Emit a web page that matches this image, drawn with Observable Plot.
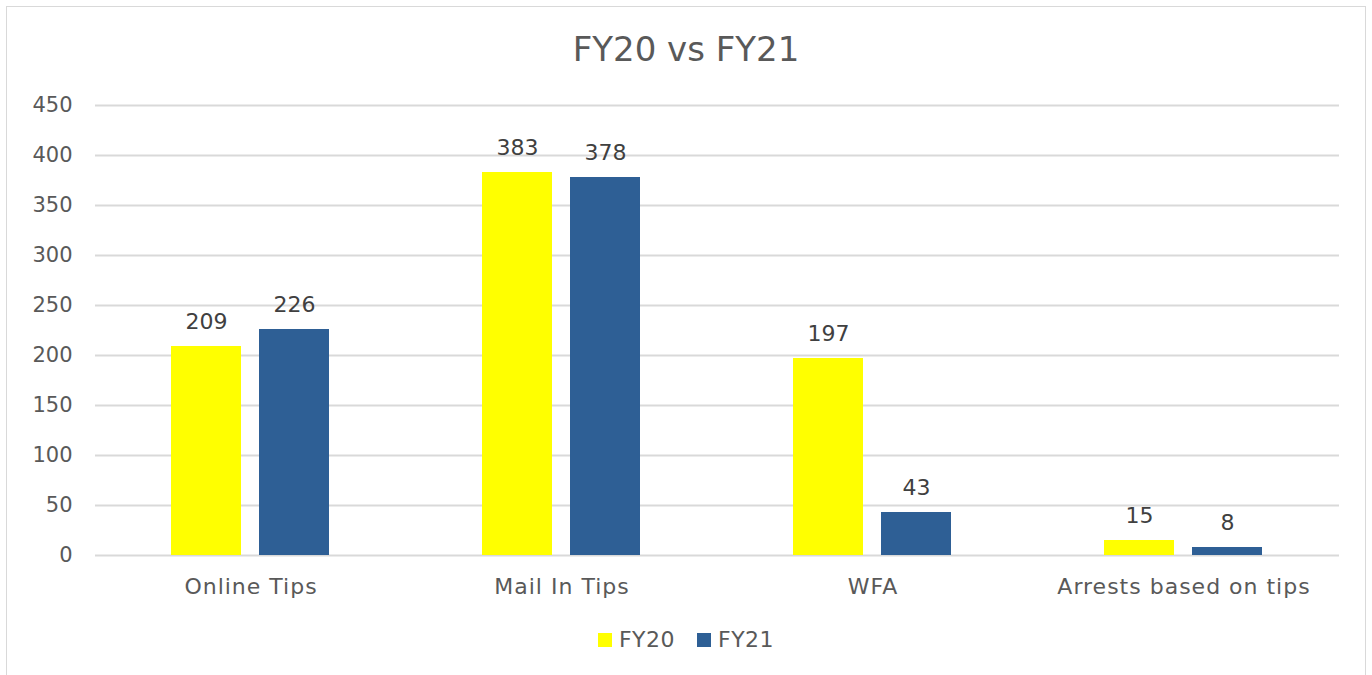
<!DOCTYPE html>
<html>
<head>
<meta charset="utf-8">
<script src="https://cdn.jsdelivr.net/npm/d3@7"></script>
<script src="https://cdn.jsdelivr.net/npm/@observablehq/plot@0.6"></script>
<style>
  html, body { margin: 0; padding: 0; background: #fff; }
  #box {
    position: absolute; left: 6px; top: 6px; width: 1360px; height: 720px;
    box-sizing: border-box; border: 1px solid #d9d9d9; background: #fff;
    font-family: "DejaVu Sans", sans-serif;
  }
  #title {
    margin-top: 23px; height: 38px; line-height: 38px; text-align: center;
    font-size: 34px; color: #595959;
  }
  #legend {
    display: flex; justify-content: center; align-items: center; gap: 22px;
    margin-top: 22px; font-size: 22px; color: #595959; letter-spacing: 0.5px;
  }
  .sw { display: inline-block; width: 14px; height: 14px; margin-right: 7px; vertical-align: middle; }
  .item { display: flex; align-items: center; }
  svg { display: block; }
</style>
</head>
<body>
<div id="box">
  <div id="title">FY20 vs FY21</div>
  <div id="chart"></div>
  <div id="legend"></div>
</div>
<script>
const categories = ["Online Tips", "Mail In Tips", "WFA", "Arrests based on tips"];
const series = ["FY20", "FY21"];
const fy20 = [209, 383, 197, 15];
const fy21 = [226, 378, 43, 8];
const colors = ["#FFFF00", "#2E5F95"];
const yTicks = [0, 50, 100, 150, 200, 250, 300, 350, 400, 450];

const data = categories.flatMap((c, i) => [
  {category: c, series: "FY20", value: fy20[i]},
  {category: c, series: "FY21", value: fy21[i]}
]);

const chart = Plot.plot({
  width: 1358,
  height: 537,
  marginLeft: 86,
  marginRight: 25,
  marginTop: 37,
  marginBottom: 50,
  style: {fontFamily: "DejaVu Sans, sans-serif", fontSize: "21px", color: "#595959", background: "white"},
  fx: {domain: categories, padding: 0, label: null, axis: "bottom", tickSize: 0, tickPadding: 23},
  x: {domain: series, paddingInner: 0.2045, paddingOuter: 0.86, axis: null},
  y: {domain: [0, 450], ticks: yTicks, label: null, tickSize: 0, tickPadding: 23},
  color: {domain: series, range: colors},
  marks: [
    Plot.gridY(yTicks, {stroke: "#d9d9d9", strokeOpacity: 1, strokeWidth: 2}),
    Plot.barY(data, {fx: "category", x: "series", y: "value", fill: "series"}),
    Plot.text(data, {fx: "category", x: "series", y: "value", text: d => String(d.value),
      lineAnchor: "bottom", dy: -18, fill: "#404040", fontSize: 22})
  ]
});
chart.querySelectorAll("[aria-label='fx-axis tick label'] text").forEach(t => {
  t.style.fontSize = "22px";
  t.style.letterSpacing = "1px";
});
document.getElementById("chart").appendChild(chart);

const legend = document.getElementById("legend");
series.forEach((s, i) => {
  const it = document.createElement("div");
  it.className = "item";
  const sw = document.createElement("span");
  sw.className = "sw";
  sw.style.background = colors[i];
  it.appendChild(sw);
  it.appendChild(document.createTextNode(s));
  legend.appendChild(it);
});
</script>
</body>
</html>
